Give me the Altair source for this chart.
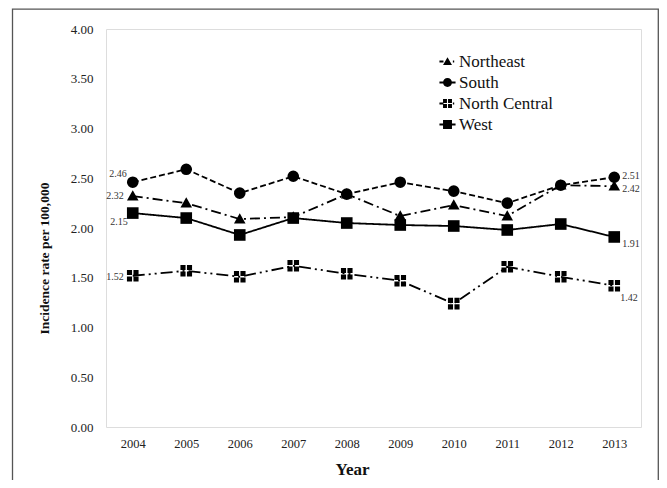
import altair as alt
import pandas as pd

years = ["2004", "2005", "2006", "2007", "2008", "2009", "2010", "2011", "2012", "2013"]
regions = ["Northeast", "South", "North Central", "West"]
northeast = [2.32, 2.25, 2.09, 2.11, 2.34, 2.12, 2.23, 2.12, 2.43, 2.42]
south = [2.46, 2.59, 2.35, 2.52, 2.34, 2.46, 2.37, 2.25, 2.43, 2.51]
north_central = [1.52, 1.57, 1.51, 1.62, 1.54, 1.47, 1.24, 1.61, 1.51, 1.42]
west = [2.15, 2.10, 1.93, 2.10, 2.05, 2.03, 2.02, 1.98, 2.04, 1.91]

series = {"Northeast": northeast, "South": south, "North Central": north_central, "West": west}
rows = []
for r in regions:
    for y, v in zip(years, series[r]):
        rows.append({"Year": y, "Region": r, "Rate": v, "Label": f"{v:.2f}"})
df = pd.DataFrame(rows)

SERIF = "Liberation Serif"

x_enc = alt.X("Year:O", sort=years,
              scale=alt.Scale(paddingInner=0, paddingOuter=0.5, padding=0.5),
              axis=alt.Axis(title="Year", labelAngle=0, labelFont=SERIF, labelFontSize=12.5,
                            labelColor="#222", labelPadding=10, ticks=False, domain=False,
                            titleFont=SERIF, titleFontSize=17, titleFontWeight="bold",
                            titleColor="#111", titleX=246, titleY=42, titleAnchor="start",
                            titleAlign="center", titleBaseline="middle"))
y_enc = alt.Y("Rate:Q", scale=alt.Scale(domain=[0, 4], nice=False),
              axis=alt.Axis(title="Incidence rate per 100,000", values=[0, 0.5, 1, 1.5, 2, 2.5, 3, 3.5, 4],
                            format=".2f", labelFont=SERIF, labelFontSize=13, labelColor="#222",
                            labelPadding=13, ticks=False, domain=False, grid=False,
                            titleFont=SERIF, titleFontSize=13.5, titleFontWeight="bold",
                            titleColor="#111", titleX=-62, titleY=229, titleAngle=-90,
                            titleAlign="center", titleBaseline="middle"))

dash_scale = alt.Scale(domain=regions, range=[[10, 4, 2, 4], [6, 3], [12, 4, 2, 4, 2, 4], [1, 0]])

tri = "M0,-1L1,0.75H-1Z"
circ = "circle"
cross_sq = "M-1,-1H-0.12V-0.12H-1Z M0.12,-1H1V-0.12H0.12Z M-1,0.12H-0.12V1H-1Z M0.12,0.12H1V1H0.12Z"
sq = "square"
point_shapes = alt.Scale(domain=regions, range=[tri, circ, cross_sq, sq])

# legend symbols: marker plus short line stubs
stub_dash_l = "M-1.8,-0.2H-0.9V0.2H-1.8Z"
stub_dot_r = "M1.2,-0.2H1.5V0.2H1.2Z"
stub_dash_r = "M0.9,-0.2H1.8V0.2H0.9Z"
leg_tri = "M0,-0.95L1,0.8H-1Z " + stub_dash_l + " " + stub_dot_r
leg_circ = "M1,0A1,1 0 1,1 -1,0A1,1 0 1,1 1,0Z " + stub_dash_l + " " + stub_dash_r
leg_cross = cross_sq + " " + stub_dash_l + " " + stub_dot_r
leg_sq = "M-1,-1H1V1H-1Z " + stub_dash_l + " " + stub_dash_r
legend_shapes = alt.Scale(domain=regions, range=[leg_tri, leg_circ, leg_cross, leg_sq])

base = alt.Chart(df)

lines = base.mark_line(color="black", strokeWidth=1.8).encode(
    x=x_enc, y=y_enc,
    detail="Region:N",
    strokeDash=alt.StrokeDash("Region:N", scale=dash_scale, legend=None),
)

points = base.mark_point(filled=True, color="black", opacity=1, size=135, strokeWidth=0).encode(
    x=x_enc, y=y_enc,
    shape=alt.Shape("Region:N", scale=point_shapes, legend=None),
)

legend_layer = base.mark_point(filled=True, color="black", opacity=0, size=80).encode(
    x=x_enc, y=y_enc,
    shape=alt.Shape("Region:N", scale=legend_shapes,
                    legend=alt.Legend(title=None, orient="none", legendX=333, legendY=24,
                                      labelFont=SERIF, labelFontSize=17, labelColor="#111",
                                      symbolOpacity=1, symbolFillColor="black",
                                      symbolStrokeWidth=0, symbolSize=80, rowPadding=3,
                                      labelOffset=3, padding=0)),
)

def label_layer(year, region, align, dx, dy):
    return base.transform_filter(
        (alt.datum.Year == year) & (alt.datum.Region == region)
    ).mark_text(font=SERIF, fontSize=10, color="#333", align=align, baseline="middle",
                dx=dx, dy=dy).encode(x=x_enc, y=y_enc, text="Label:N")

labels = [
    label_layer("2004", "South", "right", -6, -8),
    label_layer("2004", "Northeast", "right", -9, 0),
    label_layer("2004", "West", "right", -5, 9),
    label_layer("2004", "North Central", "right", -9, 1),
    label_layer("2013", "South", "left", 8, -1),
    label_layer("2013", "Northeast", "left", 8, 3),
    label_layer("2013", "West", "left", 8, 7),
    label_layer("2013", "North Central", "left", 6, 12),
]

frame = alt.Chart(pd.DataFrame({"f": [0]})).mark_rect(
    fill="transparent", stroke="#555", strokeWidth=1.3
).encode(x=alt.value(-93.5), x2=alt.value(552.3), y=alt.value(-19.8), y2=alt.value(470))

chart = alt.layer(frame, lines, points, legend_layer, *labels).resolve_scale(
    shape="independent"
).properties(
    width=535, height=398,
    autosize=alt.AutoSizeParams(type="none"),
    padding={"left": 98, "top": 21, "right": 18, "bottom": 53},
).configure_view(stroke="#888", strokeWidth=1.5).configure(background="white")

chart.save("out.html", embed_options={"renderer": "svg", "actions": False})
